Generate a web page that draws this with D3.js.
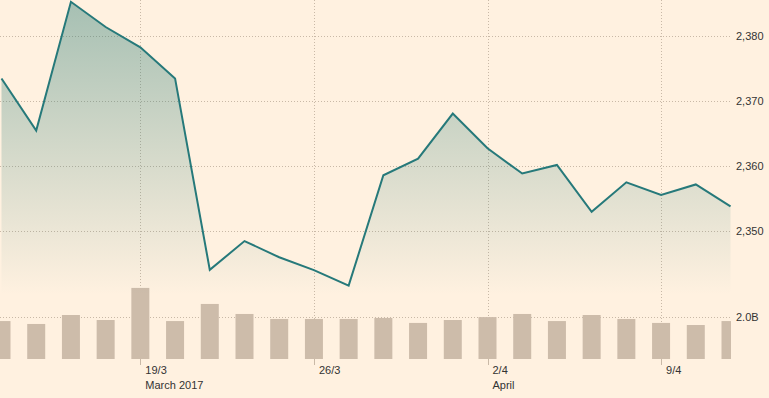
<!DOCTYPE html>
<html>
<head>
<meta charset="utf-8">
<script src="https://cdn.jsdelivr.net/npm/d3@7"></script>
<style>
  html, body { margin: 0; padding: 0; background: #fff1e0; }
  svg { display: block; font-family: "Liberation Sans", Arial, sans-serif; }
</style>
</head>
<body>
<div id="chart"></div>
<script>
// S&P 500 closes, 13 Mar - 11 Apr 2017 (trading days)
const dates = ["13/3","14/3","15/3","16/3","17/3","20/3","21/3","22/3","23/3","24/3","27/3",
  "28/3","29/3","30/3","31/3","3/4","4/4","5/4","6/4","7/4","10/4","11/4"];
const closes = [2373.47, 2365.45, 2385.26, 2381.38, 2378.25, 2373.47, 2344.02, 2348.45, 2345.96,
  2343.98, 2341.59, 2358.57, 2361.13, 2368.06, 2362.72, 2358.84, 2360.16, 2352.95, 2357.49,
  2355.54, 2357.16, 2353.78];
// volume, billions
const volumes = [1.82, 1.68, 2.11, 1.87, 3.41, 1.82, 2.64, 2.16, 1.92, 1.92, 1.92,
  1.97, 1.73, 1.87, 2.01, 2.16, 1.82, 2.11, 1.92, 1.73, 1.63, 1.82];
const priceTicks = [2350, 2360, 2370, 2380];
const volumeTicks = [2.0];
const xTicks = [
  { i: 4, label: "19/3", sub: "March 2017" },
  { i: 9, label: "26/3", sub: "" },
  { i: 14, label: "2/4", sub: "April" },
  { i: 19, label: "9/4", sub: "" }
];

const W = 769, H = 398;
const plotRight = 731;
const data = dates.map((d, i) => ({ i, date: d, close: closes[i], vol: volumes[i] }));

const svg = d3.select("#chart").append("svg")
  .attr("width", W)
  .attr("height", H);

svg.append("rect").attr("width", W).attr("height", H).attr("fill", "#fff1e0");

const x = d3.scalePoint()
  .domain(d3.range(data.length))
  .range([1.5, 730.5]);

const y = d3.scaleLinear()
  .domain([2350, 2380])
  .range([231, 36]);

const yVol = d3.scaleLinear()
  .domain([0, 2.0])
  .range([359, 317.3]);

const defs = svg.append("defs");
defs.append("clipPath").attr("id", "plot-clip")
  .append("rect").attr("x", 0).attr("y", 0).attr("width", plotRight).attr("height", 360);

const grad = defs.append("linearGradient")
  .attr("id", "area-grad")
  .attr("gradientUnits", "userSpaceOnUse")
  .attr("x1", 0).attr("y1", 0).attr("x2", 0).attr("y2", 295);
grad.append("stop").attr("offset", "0%").attr("stop-color", "#2a7b74").attr("stop-opacity", 0.42);
grad.append("stop").attr("offset", "100%").attr("stop-color", "#2a7b74").attr("stop-opacity", 0);

// gridlines
const grid = svg.append("g").attr("stroke", "#c9b9a7").attr("stroke-dasharray", "1,2").attr("stroke-width", 1);
grid.selectAll("line.h")
  .data(priceTicks)
  .join("line")
  .attr("class", "h")
  .attr("x1", 0).attr("x2", plotRight - 1)
  .attr("y1", d => Math.round(y(d)) + 0.5)
  .attr("y2", d => Math.round(y(d)) + 0.5);
grid.selectAll("line.hv")
  .data(volumeTicks)
  .join("line")
  .attr("class", "hv")
  .attr("x1", 0).attr("x2", plotRight - 1)
  .attr("y1", d => Math.round(yVol(d)) + 0.5)
  .attr("y2", d => Math.round(yVol(d)) + 0.5);
grid.selectAll("line.v")
  .data(xTicks)
  .join("line")
  .attr("class", "v")
  .attr("x1", d => Math.round(x(d.i)) + 0.5)
  .attr("x2", d => Math.round(x(d.i)) + 0.5)
  .attr("y1", 0).attr("y2", 359);

const plot = svg.append("g").attr("clip-path", "url(#plot-clip)");

// volume bars
plot.selectAll("rect.bar")
  .data(data)
  .join("rect")
  .attr("class", "bar")
  .attr("x", d => x(d.i) - 9)
  .attr("width", 18)
  .attr("y", d => yVol(d.vol))
  .attr("height", d => yVol(0) - yVol(d.vol))
  .attr("fill", "#cdbcaa");

// price area + line
const area = d3.area()
  .x(d => x(d.i))
  .y0(295)
  .y1(d => y(d.close));
plot.append("path")
  .datum(data)
  .attr("d", area)
  .attr("fill", "url(#area-grad)");

const line = d3.line()
  .x(d => x(d.i))
  .y(d => y(d.close));
plot.append("path")
  .datum(data)
  .attr("d", line)
  .attr("fill", "none")
  .attr("stroke", "#26797a")
  .attr("stroke-width", 2)
  .attr("stroke-linejoin", "miter");

// right axis labels
const fmt = d3.format(",");
svg.selectAll("text.py")
  .data(priceTicks)
  .join("text")
  .attr("class", "py")
  .attr("x", 736)
  .attr("y", d => y(d) + 4)
  .attr("font-size", "11px")
  .attr("fill", "#333")
  .text(d => fmt(d));
svg.selectAll("text.vy")
  .data(volumeTicks)
  .join("text")
  .attr("class", "vy")
  .attr("x", 736)
  .attr("y", d => yVol(d) + 4)
  .attr("font-size", "11px")
  .attr("fill", "#333")
  .text(d => d.toFixed(1) + "B");

// bottom axis
const xAxis = svg.append("g");
xAxis.selectAll("line.tick")
  .data(xTicks)
  .join("line")
  .attr("class", "tick")
  .attr("x1", d => Math.round(x(d.i)) + 0.5)
  .attr("x2", d => Math.round(x(d.i)) + 0.5)
  .attr("y1", 359).attr("y2", 365)
  .attr("stroke", "#c9b9a7");
xAxis.selectAll("text.lbl")
  .data(xTicks)
  .join("text")
  .attr("class", "lbl")
  .attr("x", d => x(d.i) + 5)
  .attr("y", 374)
  .attr("font-size", "11px")
  .attr("fill", "#333")
  .text(d => d.label);
xAxis.selectAll("text.sub")
  .data(xTicks.filter(d => d.sub))
  .join("text")
  .attr("class", "sub")
  .attr("x", d => x(d.i) + 5)
  .attr("y", 389)
  .attr("font-size", "11px")
  .attr("fill", "#333")
  .text(d => d.sub);
</script>
</body>
</html>
